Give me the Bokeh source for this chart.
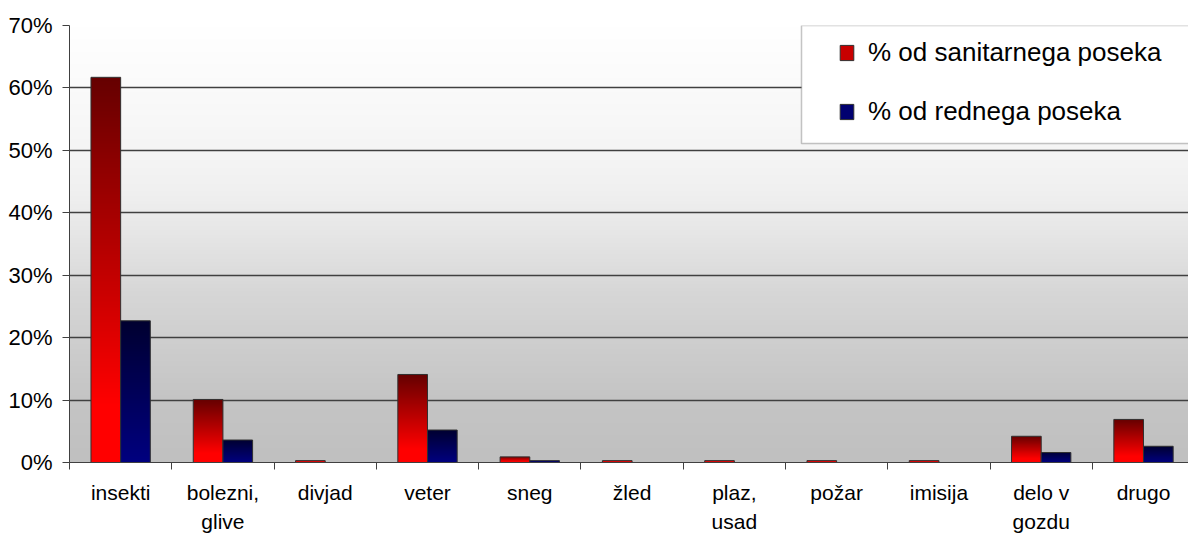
import numpy as np
from bokeh.plotting import figure
from bokeh.models import (FixedTicker, NumeralTickFormatter, Legend, LegendItem,
                          BoxAnnotation, Range1d, ColumnDataSource)
from bokeh.embed import file_html
from bokeh.resources import INLINE

# ---- data ----
categories = ["insekti", "bolezni,\nglive", "divjad", "veter", "sneg", "žled",
              "plaz,\nusad", "požar", "imisija", "delo v\ngozdu", "drugo"]
sanitarni = [0.617, 0.101, 0.003, 0.141, 0.009, 0.003, 0.003, 0.003, 0.003, 0.042, 0.069]
redni = [0.227, 0.036, 0.0, 0.052, 0.003, 0.0, 0.0, 0.0, 0.0, 0.016, 0.026]
series_names = ["% od sanitarnega poseka", "% od rednega poseka"]
y_ticks = [0.0, 0.1, 0.2, 0.3, 0.4, 0.5, 0.6, 0.7]

FONT = "Liberation Sans"
N = len(categories)
BAR_W = 0.29


def rgba_column(r, g, b):
    rows = len(r)
    arr = np.zeros((rows, 1, 4), dtype=np.uint8)
    arr[:, 0, 0] = r
    arr[:, 0, 1] = g
    arr[:, 0, 2] = b
    arr[:, 0, 3] = 255
    return arr.view(np.uint32).reshape(rows, 1)


# background gradient (row 0 = bottom)
rows = 256
frac_top = np.linspace(1, 0, rows)  # fraction from the top
gray = np.interp(frac_top, [0, .15, .29, .38, .5, .61, .85, 1.0],
                 [255, 250, 245, 240, 228, 215, 197, 192]).astype(np.uint8)
bg_img = rgba_column(gray, gray, gray)

# bar gradients (row 0 = bottom)
red_r = np.interp(frac_top, [0, 0.85, 1.0], [0x66, 0xff, 0xff]).astype(np.uint8)
red_img = rgba_column(red_r, np.zeros(rows, np.uint8), np.zeros(rows, np.uint8))
blue_b = np.interp(frac_top, [0, 1.0], [0x30, 0x80]).astype(np.uint8)
blue_img = rgba_column(np.zeros(rows, np.uint8), np.zeros(rows, np.uint8), blue_b)

p = figure(width=1188, height=536, output_backend="svg", toolbar_location=None,
           x_range=Range1d(0, 10.94), y_range=Range1d(0, 0.7))
p.min_border_left = 69
p.min_border_right = 0
p.min_border_top = 25
p.min_border_bottom = 74
p.outline_line_color = None
p.background_fill_color = "white"
p.border_fill_color = "white"

p.image_rgba(image=[bg_img], x=0, y=0, dw=N, dh=0.7, level="image")

p.xgrid.visible = False
p.ygrid.ticker = FixedTicker(ticks=y_ticks)
p.ygrid.grid_line_color = "#404040"
p.ygrid.grid_line_width = 1.5

offsets = [-BAR_W / 2, BAR_W / 2]
images = [red_img, blue_img]
for vals, off, img in zip([sanitarni, redni], offsets, images):
    xs = [i + 0.5 + off for i, v in enumerate(vals) if v > 0]
    vs = [v for v in vals if v > 0]
    src = ColumnDataSource(dict(
        image=[img] * len(vs), x=[x - BAR_W / 2 for x in xs], y=[0] * len(vs),
        dw=[BAR_W] * len(vs), dh=vs, xc=xs, top=vs))
    p.image_rgba(image="image", x="x", y="y", dw="dw", dh="dh", source=src,
                 level="glyph")
    p.vbar(x="xc", top="top", width=BAR_W, source=src, fill_color=None,
           line_color="#303030", line_width=1)

# axes
p.yaxis.ticker = FixedTicker(ticks=y_ticks)
p.yaxis.formatter = NumeralTickFormatter(format="0%")
p.yaxis.minor_tick_line_color = None
p.yaxis.major_tick_in = 0
p.yaxis.major_tick_out = 7
p.yaxis.major_label_standoff = 10
p.yaxis.axis_line_color = "#404040"
p.yaxis.major_tick_line_color = "#404040"
p.yaxis.major_label_text_font = FONT
p.yaxis.major_label_text_font_size = "22px"
p.yaxis.major_label_text_color = "black"

centers = [i + 0.5 for i in range(N)]
p.xaxis.ticker = FixedTicker(ticks=centers, minor_ticks=list(range(N + 1)))
p.xaxis.major_label_overrides = {c: lab for c, lab in zip(centers, categories)}
p.xaxis.major_tick_line_color = None
p.xaxis.major_tick_in = 0
p.xaxis.major_tick_out = 7
p.xaxis.minor_tick_in = 0
p.xaxis.minor_tick_out = 7
p.xaxis.minor_tick_line_color = "#404040"
p.xaxis.axis_line_color = "#404040"
p.xaxis.major_label_standoff = 11
p.xaxis.major_label_text_font = FONT
p.xaxis.major_label_text_font_size = "21px"
p.xaxis.major_label_text_line_height = 1.3
p.xaxis.major_label_text_color = "black"

# legend
box = BoxAnnotation(left=732, right=1300, bottom=319, top=437,
                    left_units="screen", right_units="screen",
                    bottom_units="screen", top_units="screen",
                    fill_color="white", fill_alpha=1.0,
                    line_color="#404040", line_width=1.5, level="annotation")
p.add_layout(box)

r1 = p.vbar(x=[-5], top=[0.1], width=0.1, fill_color="#c80000", line_color="#303030")
r2 = p.vbar(x=[-5], top=[0.1], width=0.1, fill_color="#000070", line_color="#303030")
legend = Legend(items=[LegendItem(label=series_names[0], renderers=[r1]),
                       LegendItem(label=series_names[1], renderers=[r2])],
                location=(769, 335), padding=0, margin=0, spacing=28,
                glyph_width=17, glyph_height=19, label_standoff=13,
                label_text_font=FONT, label_text_font_size="26px",
                label_text_color="black",
                border_line_color=None, background_fill_alpha=0)
p.add_layout(legend)

open("out.html", "w").write(file_html(p, INLINE))
